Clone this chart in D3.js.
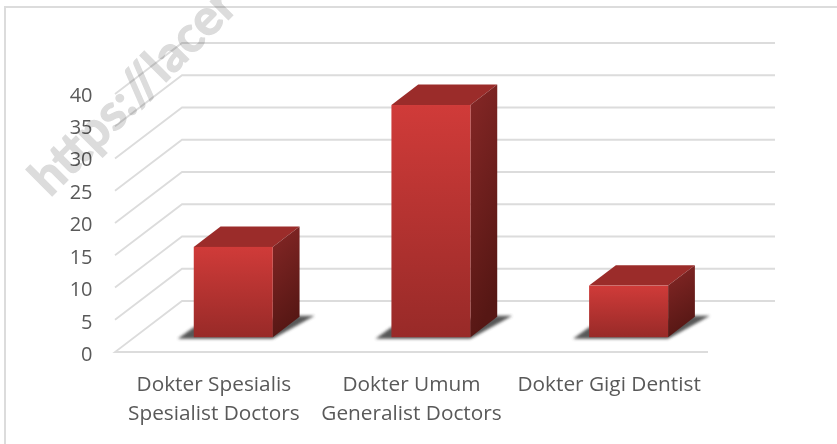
<!DOCTYPE html>
<html><head><meta charset="utf-8">
<script src="https://cdn.jsdelivr.net/npm/d3@7/dist/d3.min.js"></script>
<style>html,body{margin:0;padding:0;background:#fff}svg{display:block}</style>
</head><body><svg id="c" width="837" height="444"></svg>
<script>
const categories = [["Dokter Spesialis","Spesialist Doctors"],["Dokter Umum","Generalist Doctors"],["Dokter Gigi Dentist"]];
const values = [14, 36, 8];
const ticks = [0,5,10,15,20,25,30,35,40];
const watermark = "https://lacer";

const svg = d3.select("#c");
const font = "'Open Sans', sans-serif";
const defs = svg.append("defs");
const g1 = defs.append("linearGradient").attr("id","front").attr("x1",0).attr("y1",0).attr("x2",0).attr("y2",1);
g1.append("stop").attr("offset","0").attr("stop-color","#d03b39");
g1.append("stop").attr("offset","1").attr("stop-color","#982a28");
const g2 = defs.append("linearGradient").attr("id","side").attr("x1",0).attr("y1",0).attr("x2",0.25).attr("y2",1);
g2.append("stop").attr("offset","0").attr("stop-color","#862726");
g2.append("stop").attr("offset","1").attr("stop-color","#561714");
defs.append("filter").attr("id","blur").attr("x","-20%").attr("y","-40%").attr("width","140%").attr("height","180%")
  .append("feGaussianBlur").attr("stdDeviation",1.6);

// frame: only the top and left edges are visible
svg.append("path").attr("d","M5,444V7H837").attr("fill","none")
  .attr("stroke","#dcdcdc").attr("stroke-width",2);

// projection
const depthX = 67, depthY = -51;
const x = d3.scaleBand().domain(d3.range(categories.length)).range([115,708]).paddingInner(0).paddingOuter(0);
const y = d3.scaleLinear().domain([0,40]).range([352,94]);
const labelY = d3.scaleLinear().domain([0,40]).range([354,94.5]);
const gridColor = "#dcdcdc";

// grid
const grid = svg.append("g").attr("fill","none").attr("stroke",gridColor).attr("stroke-width",1.8);
ticks.forEach(t=>{
  const y0=y(t);
  if(t===0){
    grid.append("path").attr("d",`M${x.range()[1]},${y0}H${x.range()[0]}L${x.range()[0]+depthX},${y0+depthY}H${x.range()[1]+depthX}`);
  } else {
    grid.append("path").attr("d",`M${x.range()[0]},${y0}L${x.range()[0]+depthX},${y0+depthY}H${x.range()[1]+depthX}`);
  }
});

// bars
const t0=0.29, t1=0.69;
const barW = 79;
const bars = svg.append("g");
values.forEach((v,i)=>{
  const xl = x(i)+x.bandwidth()/2-barW/2+depthX*t0;
  const xr = xl+barW;
  const yb = y(0)+depthY*t0, yt = y(v)+depthY*t0;
  const dx = depthX*(t1-t0), dy = depthY*(t1-t0);
  bars.append("path").attr("filter","url(#blur)").attr("fill","#3a3a3a").attr("opacity",0.85)
    .attr("d",`M${xl-16},${yb+1.5}L${xl},${yb-10}L${xr+dx},${yb+dy-1}L${xr+dx+15},${yb+dy-1}L${xr},${yb+1.5}Z`);
  bars.append("path").attr("fill","#9b2c2a")
    .attr("d",`M${xl},${yt}L${xl+dx},${yt+dy}H${xr+dx}L${xr},${yt}Z`);
  bars.append("path").attr("fill",`url(#side)`)
    .attr("d",`M${xr},${yt}L${xr+dx},${yt+dy}V${yb+dy}L${xr},${yb}Z`);
  bars.append("rect").attr("x",xl).attr("y",yt).attr("width",barW).attr("height",yb-yt).attr("fill","url(#front)");
});

// axis labels
const yl = svg.append("g").attr("font-family",font).attr("font-size",20).attr("fill","#595959").attr("text-anchor","end");
ticks.forEach(t=>yl.append("text").attr("x",92.5).attr("y",labelY(t)+7).text(t));
const xl = svg.append("g").attr("font-family",font).attr("font-size",20.8).attr("fill","#595959").attr("text-anchor","middle");
categories.forEach((c,i)=>{
  c.forEach((s,j)=>xl.append("text").attr("x",x(i)+x.bandwidth()/2).attr("y",391+j*29).text(s));
});

// watermark
svg.append("text").attr("transform","translate(50,198) rotate(-45)")
  .attr("font-family","Lato, sans-serif").attr("font-weight",700).attr("font-size",50)
  .attr("fill","#dcdcdc").attr("stroke","#dcdcdc").attr("stroke-width",1.2)
  .style("mix-blend-mode","multiply").text(watermark);
</script></body></html>
